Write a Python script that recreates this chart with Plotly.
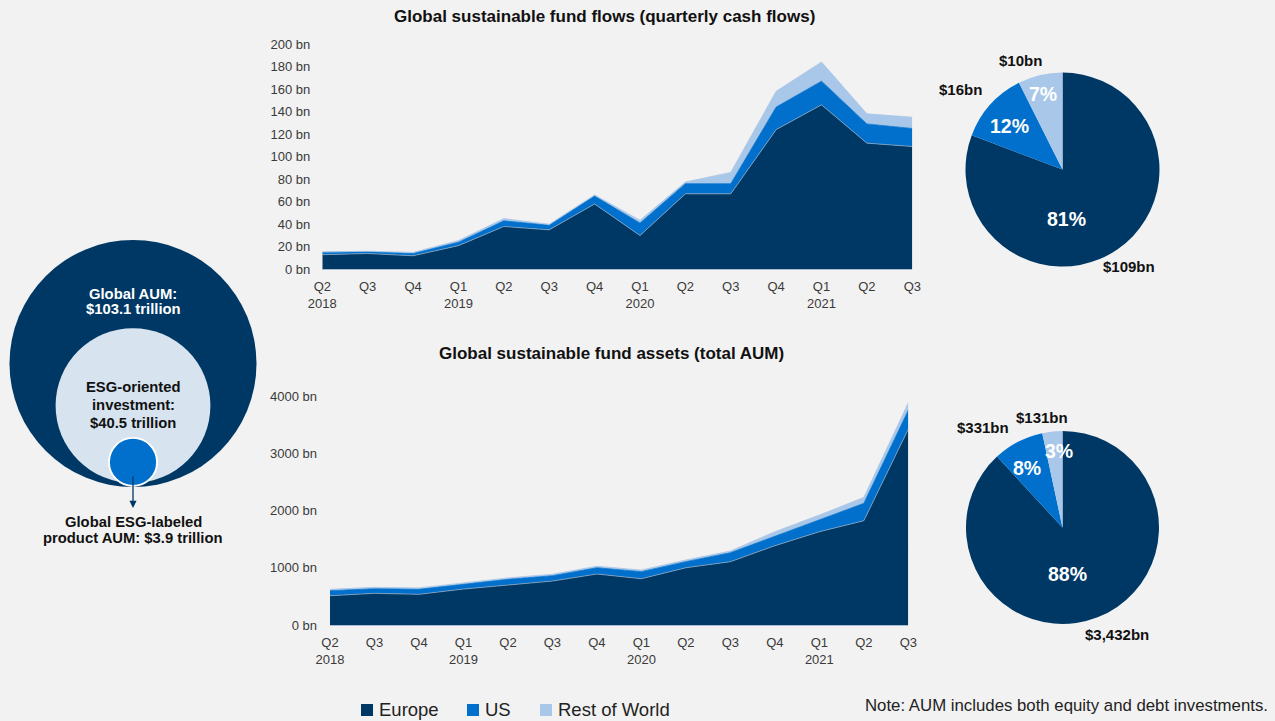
import plotly.graph_objects as go

# ---- data -------------------------------------------------------------
quarters = ["Q2", "Q3", "Q4", "Q1", "Q2", "Q3", "Q4",
            "Q1", "Q2", "Q3", "Q4", "Q1", "Q2", "Q3"]
years = ["2018", "", "", "2019", "", "", "",
         "2020", "", "", "", "2021", "", ""]

# quarterly cash flows, USD bn
flows_europe = [13, 14, 12, 21, 38, 35, 58, 30, 67, 67, 124, 146, 112, 109]
flows_us = [2, 1.5, 2, 3, 5, 4, 7, 11, 9, 9, 20, 21, 17, 16]
flows_row = [0.5, 0.5, 1, 1.5, 2, 1, 1, 2.5, 1.5, 10, 14, 17, 9, 10]

# total assets under management, USD bn
aum_europe = [513, 555, 537, 630, 700, 770, 893, 811, 1003, 1109, 1389, 1634, 1827, 3432]
aum_us = [88, 80, 88, 88, 100, 93, 110, 123, 106, 157, 170, 205, 304, 331]
aum_row = [24, 25, 25, 22, 25, 27, 27, 29, 30, 30, 75, 87, 105, 131]

regions = ["Europe", "US", "Rest of World"]
pie_flows = [109, 16, 10]
pie_flows_pct = ["81%", "12%", "7%"]
pie_aum = [3432, 331, 131]
pie_aum_pct = ["88%", "8%", "3%"]

flow_ticks = [0, 20, 40, 60, 80, 100, 120, 140, 160, 180, 200]
aum_ticks = [0, 1000, 2000, 3000, 4000]

# nested AUM circles, USD trillion (circle area proportional to value)
global_aum = 103.1
esg_oriented = 40.5
esg_labeled = 3.9

# ---- styling ----------------------------------------------------------
W, H = 1275, 721
BG = "#f2f2f2"
NAVY = "#003865"
BLUE = "#0070cc"
LIGHT = "#a9c7e9"
PALE = "#d7e4ef"
TXT = "#3a3a3a"
FONT = "Liberation Sans"
colors = [NAVY, BLUE, LIGHT]


def px(x):
    return x / W


def py(y):
    return 1 - y / H


xs = list(range(len(quarters)))
ticktext = [q + ("<br>" + y if y else "") for q, y in zip(quarters, years)]

fig = go.Figure()

# stacked area charts
for name, vals, col, lc in [("Europe", flows_europe, NAVY, "#8aa3bd"),
                            ("US", flows_us, BLUE, BLUE),
                            ("Rest of World", flows_row, LIGHT, LIGHT)]:
    fig.add_trace(go.Scatter(x=xs, y=vals, name=name, mode="lines",
                             stackgroup="flows", fillcolor=col,
                             line=dict(color=lc, width=0.8),
                             showlegend=False, xaxis="x", yaxis="y"))

for name, vals, col, lc in [("Europe", aum_europe, NAVY, "#8aa3bd"),
                            ("US", aum_us, BLUE, BLUE),
                            ("Rest of World", aum_row, LIGHT, LIGHT)]:
    fig.add_trace(go.Scatter(x=xs, y=vals, name=name, mode="lines",
                             stackgroup="aum", fillcolor=col,
                             line=dict(color=lc, width=0.8),
                             showlegend=False, xaxis="x2", yaxis="y2"))


# regional split of the latest quarter
def pie_domain(cx, cy, r):
    return dict(x=[px(cx - r), px(cx + r)], y=[py(cy + r), py(cy - r)])


fig.add_trace(go.Pie(labels=regions, values=pie_flows, sort=False,
                     direction="clockwise", rotation=0,
                     marker=dict(colors=colors, line=dict(width=0)),
                     textinfo="none", hoverinfo="label+value",
                     domain=pie_domain(1062.5, 169.5, 97), showlegend=False))
fig.add_trace(go.Pie(labels=regions, values=pie_aum, sort=False,
                     direction="clockwise", rotation=0,
                     marker=dict(colors=colors, line=dict(width=0)),
                     textinfo="none", hoverinfo="label+value",
                     domain=pie_domain(1062.5, 527.5, 96.5), showlegend=False))

axis_font = dict(family=FONT, size=13, color=TXT)
fig.update_layout(
    width=W, height=H,
    margin=dict(l=0, r=0, t=0, b=0, pad=0, autoexpand=False),
    paper_bgcolor=BG, plot_bgcolor=BG, font=dict(family=FONT, color=TXT),
    xaxis=dict(domain=[px(322.3), px(912.3)], anchor="y", range=[0, 13],
               tickvals=xs, ticktext=ticktext, tickfont=axis_font,
               showgrid=False, zeroline=False, showline=True,
               linecolor="#a9bccf", linewidth=1, ticklabelstandoff=5,
               automargin=False, fixedrange=True),
    yaxis=dict(domain=[py(269.3), py(44)], anchor="x", range=[0, 200],
               tickmode="array", tickvals=flow_ticks,
               ticktext=[f"{v} bn" for v in flow_ticks], tickfont=axis_font,
               showgrid=False, zeroline=False, ticklabelstandoff=11,
               automargin=False, fixedrange=True),
    xaxis2=dict(domain=[px(330), px(908.3)], anchor="y2", range=[0, 13],
                tickvals=xs, ticktext=ticktext, tickfont=axis_font,
                showgrid=False, zeroline=False, showline=True,
                linecolor="#a9bccf", linewidth=1, ticklabelstandoff=5,
                automargin=False, fixedrange=True),
    yaxis2=dict(domain=[py(625), py(396.7)], anchor="x2", range=[0, 4000],
                tickmode="array", tickvals=aum_ticks,
                ticktext=[f"{v} bn" for v in aum_ticks], tickfont=axis_font,
                showgrid=False, zeroline=False, ticklabelstandoff=12,
                automargin=False, fixedrange=True),
)

annotations = []


def label(text, x, y, size, color="#111111", bold=True, xanchor="center"):
    annotations.append(dict(
        text=f"<b>{text}</b>" if bold else text, x=px(x), y=py(y),
        xref="paper", yref="paper", xanchor=xanchor, yanchor="middle",
        showarrow=False, font=dict(family=FONT, size=size, color=color)))


# chart titles
label("Global sustainable fund flows (quarterly cash flows)", 604, 17, 17)
label("Global sustainable fund assets (total AUM)", 611, 353, 17)

# pie labels
for pos, v in zip([(1129, 266), (960, 90), (1020.5, 61)], pie_flows):
    label(f"${v:,}bn", pos[0], pos[1], 15)
for pos, t in zip([(1066.5, 219), (1009, 126), (1043, 94)], pie_flows_pct):
    label(t, pos[0], pos[1], 19.5, color="white")
for pos, v in zip([(1116.5, 634), (983, 428), (1041.5, 417)], pie_aum):
    label(f"${v:,}bn", pos[0], pos[1], 15)
for pos, t in zip([(1067, 574), (1026.5, 467.5), (1059, 451)], pie_aum_pct):
    label(t, pos[0], pos[1], 19.5, color="white")

# nested circles
R_MAX = 123.5
CX = 133


def radius(v):
    return R_MAX * (v / global_aum) ** 0.5


shapes = []
for v, bottom, fill, lw in [(global_aum, 487, NAVY, 0),
                            (esg_oriented, 483, PALE, 0),
                            (esg_labeled, 486, BLUE, 1.8)]:
    r = radius(v)
    cy = bottom - r
    shapes.append(dict(type="circle", xref="paper", yref="paper",
                       x0=px(CX - r), x1=px(CX + r), y0=py(cy + r), y1=py(cy - r),
                       fillcolor=fill, line=dict(color="white", width=lw),
                       layer="above"))

label("Global AUM:", CX, 293.5, 14.8, color="white")
label(f"${global_aum}&nbsp;trillion", CX, 309, 14.8, color="white")
label("ESG-oriented", CX, 386.5, 14.8)
label("investment:", CX, 405, 14.8)
label(f"${esg_oriented} trillion", CX, 423, 14.8)
label("Global ESG-labeled", CX, 521.5, 14.8)
label(f"product AUM: ${esg_labeled} trillion", CX, 537.5, 14.8)

annotations.append(dict(x=px(CX), y=py(508), xref="paper", yref="paper",
                        ax=0, ay=-33, text="", showarrow=True, arrowhead=2,
                        arrowsize=1.1, arrowwidth=1.3, arrowcolor=NAVY))

# legend
lx = [361, 467, 540]
for x0, name, col in zip(lx, regions, colors):
    shapes.append(dict(type="rect", xref="paper", yref="paper",
                       x0=px(x0), x1=px(x0 + 12), y0=py(716), y1=py(704),
                       fillcolor=col, line=dict(width=0)))
    label(name, x0 + 16, 709.5, 18.5, color="#222222", bold=False, xanchor="left")

label("Note: AUM includes both equity and debt investments.", 1270, 705, 16.8,
      color="#222222", bold=False, xanchor="right")

fig.update_layout(annotations=annotations, shapes=shapes)
fig.write_html("out.html")
